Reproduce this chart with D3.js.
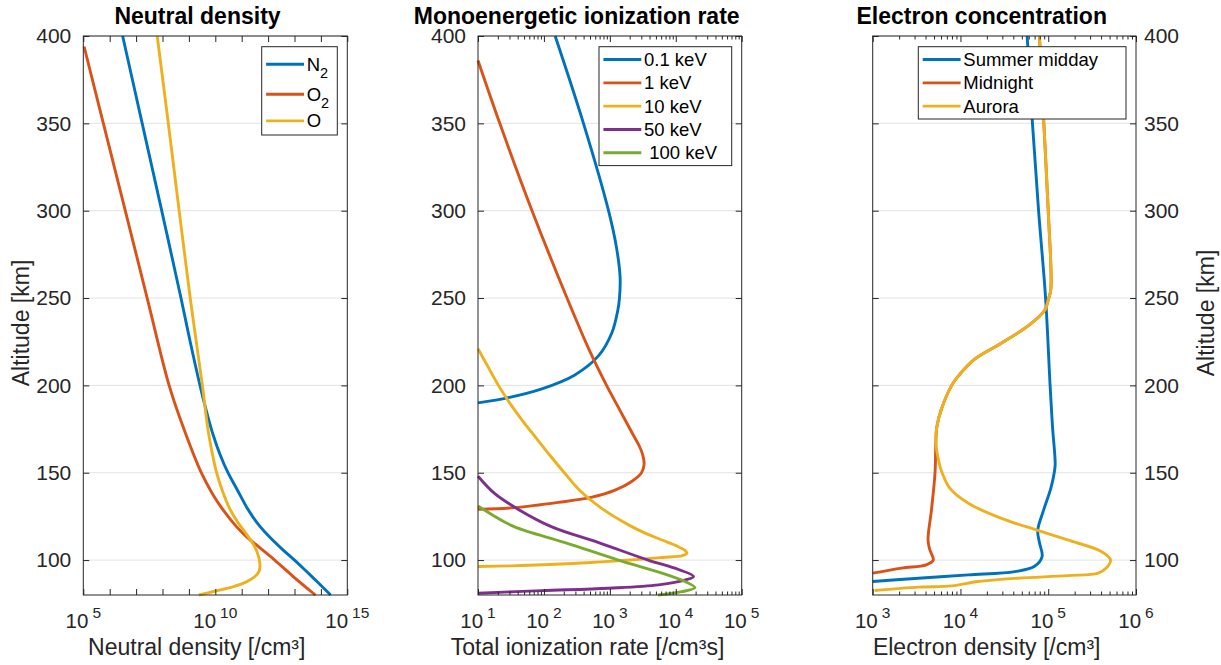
<!DOCTYPE html>
<html>
<head>
<meta charset="utf-8">
<script src="https://cdn.jsdelivr.net/npm/d3@7"></script>
<style>
  body { margin: 0; background: #fff; }
  svg { display: block; font-family: "Liberation Sans", Arial, Helvetica, sans-serif; }
</style>
</head>
<body>
<svg id="fig" width="1221" height="665"></svg>
<script>
// ---- Neutral density profiles [/cm^3] vs altitude [km] ----
const altN2  = [400, 350, 300, 250, 225, 200, 186, 172, 160, 150, 140, 130, 121, 113, 106, 100, 94, 87, 80];
const densN2 = [3.09e6, 1.70e7, 9.33e7, 5.01e8, 1.12e9, 2.63e9, 4.47e9, 8.13e9, 1.55e10, 3.02e10, 6.92e10, 1.58e11, 3.98e11, 1.17e12, 3.55e12, 1.0e13, 2.63e13, 7.94e13, 2.34e14];
const altO2  = [394, 350, 300, 250, 200, 173, 150, 138, 129, 119, 113, 107, 100, 91, 80];
const densO2 = [1.07e5, 5.75e5, 3.89e6, 2.63e7, 1.78e8, 7.24e8, 2.95e9, 7.76e9, 1.91e10, 6.46e10, 1.62e11, 4.9e11, 1.78e12, 8.3e12, 6.17e13];
const altO   = [400, 350, 300, 250, 200, 185, 173, 160, 150, 140, 129, 121, 114, 108, 103, 99, 96, 93, 90.6, 87.5, 84.8, 82, 80];
const densO  = [6.31e7, 1.66e8, 4.27e8, 1.12e9, 3.24e9, 4.27e9, 5.5e9, 7.94e9, 1.12e10, 1.82e10, 3.63e10, 7.59e10, 1.66e11, 3.02e11, 4.17e11, 4.79e11, 4.9e11, 4.37e11, 3.16e11, 1.51e11, 4.9e10, 8.5e9, 2.4e9];
const neutralLabels = [["N", "2"], ["O", "2"], ["O", ""]];

// ---- Monoenergetic ionization rate [/cm^3 s] ----
const alt01keV  = [400, 350, 300, 279, 262, 250, 243, 230, 217, 206, 198, 193, 190];
const rate01keV = [148, 398, 955, 1260, 1430, 1400, 1320, 1070, 676, 295, 93, 29, 10];
const alt1keV   = [386, 350, 300, 250, 220, 200, 186, 172.6, 165, 160, 155, 150, 145, 140, 136, 133, 130, 129];
const rate1keV  = [10, 21.4, 66, 224, 490, 891, 1410, 2190, 2820, 3160, 3310, 3020, 2140, 1200, 537, 166, 36, 10];
const alt10keV  = [221, 210, 200, 190, 180, 170, 160, 150, 140, 130, 120, 115, 111.5, 108, 105.5, 104, 102.5, 101.5, 100, 98.5, 97.3, 96.7, 96.3];
const rate10keV = [10, 14.5, 20.4, 30.2, 46.8, 75.9, 123, 204, 347, 724, 1950, 3630, 6170, 10500, 13800, 14800, 12600, 6310, 2000, 447, 100, 31.6, 10];
const alt50keV  = [148, 138, 129, 119, 110, 100, 94.6, 90.6, 88.6, 85.8, 83.9, 82.5, 81];
const rate50keV = [10, 18, 41, 132, 676, 3800, 11000, 18600, 14100, 5500, 955, 93, 10];
const alt100keV  = [131, 125, 119, 110, 100, 92.5, 87.7, 84.2, 81.9, 80];
const rate100keV = [10, 18, 36, 209, 1350, 6170, 13800, 19500, 12300, 5370];
const energyLabels = ["0.1 keV", "1 keV", "10 keV", "50 keV", " 100 keV"];

// ---- Electron density [/cm^3] ----
const altDay = [400, 350, 300, 250, 200, 176, 155, 150, 141, 129, 117, 110, 102, 96.3, 93.4, 91.5, 89.6, 87.7];
const neDay  = [57500, 66100, 77600, 93300, 105000, 112000, 120000, 117000, 107000, 89100, 75900, 79400, 85100, 69200, 41700, 12300, 3310, 1000];
const altNight = [400, 350, 300, 255, 249, 243, 234, 224, 215, 205, 200, 186, 176, 169, 150, 129, 111.5, 106, 100, 97.3, 95.4, 92.5];
const neNight  = [79400, 89100, 100000, 107000, 100000, 91200, 58900, 28800, 14500, 9330, 7940, 6030, 5370, 5250, 5130, 4680, 4270, 4470, 4900, 4070, 2140, 1000];
const altAurora = [400, 350, 300, 255, 249, 243, 234, 224, 215, 205, 200, 186, 176, 167, 155, 150, 141, 132.5, 124, 117, 111.5, 105, 100, 95.4, 92.5, 91.1, 89.6, 87.7, 85.2, 84.5, 82.6];
const neAurora  = [79400, 89100, 100000, 107000, 100000, 91200, 58900, 28800, 14500, 9330, 7940, 6030, 5370, 5250, 5750, 6170, 7590, 12300, 28800, 75900, 166000, 398000, 513000, 457000, 372000, 166000, 44700, 15800, 7940, 3310, 1050];
const electronLabels = ["Summer midday", "Midnight", "Aurora"];

const altTicks = [100, 150, 200, 250, 300, 350, 400];
const colors = ["#0072BD", "#D95319", "#EDB120", "#7E2F8E", "#77AC30"];

// ---- layout ----
const svg = d3.select("#fig");
const plotTop = 36, plotBottom = 595;
const axisColor = "#262626";
const y = d3.scaleLinear().domain([80, 400]).range([plotBottom, plotTop]);

const panels = [
  {
    left: 83.3, right: 347.3, domain: [1e5, 1e15],
    decades: d3.range(5, 16), labelled: [5, 10, 15], minor: false,
    series: [[altN2, densN2], [altO2, densO2], [altO, densO]],
    legend: neutralLabels, legendWidth: 75.6, subscript: true,
    title: "Neutral density", titleX: 197.5,
    xlabel: "Neutral density [/cm³]", xlabelX: 196.7,
    yside: "left", ylabelPos: [29, 323]
  },
  {
    left: 478, right: 741.7, domain: [1e1, 1e5],
    decades: d3.range(1, 6), labelled: d3.range(1, 6), minor: true,
    series: [[alt01keV, rate01keV], [alt1keV, rate1keV], [alt10keV, rate10keV], [alt50keV, rate50keV], [alt100keV, rate100keV]],
    legend: energyLabels, legendWidth: 132.7, subscript: false,
    title: "Monoenergetic ionization rate", titleX: 576.7,
    xlabel: "Total ionization rate [/cm³s]", xlabelX: 587.5,
    yside: "left", ylabelPos: null
  },
  {
    left: 872.7, right: 1136, domain: [1e3, 1e6],
    decades: d3.range(3, 7), labelled: d3.range(3, 7), minor: true,
    series: [[altDay, neDay], [altNight, neNight], [altAurora, neAurora]],
    legend: electronLabels, legendWidth: 207.7, subscript: false,
    title: "Electron concentration", titleX: 981.7,
    xlabel: "Electron density [/cm³]", xlabelX: 986.7,
    yside: "right", ylabelPos: [1214, 313]
  }
];

panels.forEach(p => {
  const x = d3.scaleLog().domain(p.domain).range([p.left, p.right]);
  const g = svg.append("g");

  // horizontal grid
  g.append("g").selectAll("line").data(altTicks).join("line")
    .attr("x1", p.left).attr("x2", p.right)
    .attr("y1", d => y(d)).attr("y2", d => y(d))
    .attr("stroke", axisColor).attr("stroke-opacity", 0.13).attr("stroke-width", 1);

  // profiles
  const line = d3.line()
    .x(d => x(d[1])).y(d => y(d[0]))
    .curve(d3.curveCatmullRom.alpha(0.5));
  p.series.forEach((s, i) => {
    g.append("path")
      .datum(d3.zip(s[0], s[1]))
      .attr("d", line)
      .attr("fill", "none")
      .attr("stroke", colors[i])
      .attr("stroke-width", 2.9)
      .attr("stroke-linejoin", "round");
  });

  // axes: ticks point inward on all four sides
  const majorX = p.decades.map(e => Math.pow(10, e));
  const minorX = p.minor
    ? p.decades.slice(0, -1).flatMap(e => d3.range(2, 10).map(m => m * Math.pow(10, e)))
    : [];
  const mk = (axis, vals, size) => axis.tickValues(vals).tickSizeInner(-size).tickSizeOuter(0).tickFormat(() => "");

  const addAxis = (axisFn, transform) => {
    const a = g.append("g").attr("transform", transform).attr("color", axisColor).call(axisFn);
    a.select(".domain").remove();
    a.selectAll("line").attr("stroke-width", 1);
    return a;
  };
  addAxis(mk(d3.axisBottom(x), majorX, 6), `translate(0,${plotBottom})`);
  addAxis(mk(d3.axisTop(x), majorX, 6), `translate(0,${plotTop})`);
  if (minorX.length) {
    addAxis(mk(d3.axisBottom(x), minorX, 3.5), `translate(0,${plotBottom})`);
    addAxis(mk(d3.axisTop(x), minorX, 3.5), `translate(0,${plotTop})`);
  }
  addAxis(mk(d3.axisLeft(y), altTicks, 6), `translate(${p.left},0)`);
  addAxis(mk(d3.axisRight(y), altTicks, 6), `translate(${p.right},0)`);

  // axes box
  g.append("rect")
    .attr("x", p.left).attr("y", plotTop)
    .attr("width", p.right - p.left).attr("height", plotBottom - plotTop)
    .attr("fill", "none").attr("stroke", axisColor).attr("stroke-width", 1);

  // altitude tick labels
  g.append("g").selectAll("text").data(altTicks).join("text")
    .attr("x", p.yside === "left" ? p.left - 12 : p.right + 8)
    .attr("y", d => y(d) + 7.3)
    .attr("text-anchor", p.yside === "left" ? "end" : "start")
    .attr("font-size", 21).attr("fill", axisColor)
    .text(d => d);

  // power-of-ten labels
  const xl = g.append("g").selectAll("text").data(p.labelled).join("text")
    .attr("x", d => x(Math.pow(10, d)))
    .attr("y", 628)
    .attr("text-anchor", "middle")
    .attr("font-size", 20.5).attr("fill", axisColor);
  xl.append("tspan").text("10");
  xl.append("tspan").attr("dx", 4).attr("dy", -10).attr("font-size", 15.5).text(d => d);

  // title and axis labels
  g.append("text").attr("x", p.titleX).attr("y", 24)
    .attr("text-anchor", "middle").attr("font-size", 23).attr("font-weight", "bold")
    .attr("fill", "#000").text(p.title);
  g.append("text").attr("x", p.xlabelX).attr("y", 655)
    .attr("text-anchor", "middle").attr("font-size", 23)
    .attr("fill", axisColor).text(p.xlabel);
  if (p.ylabelPos) {
    g.append("text")
      .attr("transform", `translate(${p.ylabelPos[0]},${p.ylabelPos[1]}) rotate(-90)`)
      .attr("text-anchor", "middle").attr("font-size", 23)
      .attr("fill", axisColor).text("Altitude [km]");
  }

  // legend (north-east corner)
  const rowH = 23.3, subRowH = 30;
  const heights = p.legend.map(l => (p.subscript && l[1]) ? subRowH : rowH);
  const pad = p.subscript ? 2.5 : 1.2;
  const boxH = d3.sum(heights) + 2 * pad;
  const lx = p.right - 10 - p.legendWidth, ly = plotTop + 10.7;
  const lg = g.append("g").attr("transform", `translate(${lx},${ly})`);
  lg.append("rect").attr("width", p.legendWidth).attr("height", boxH)
    .attr("fill", "#fff").attr("stroke", axisColor).attr("stroke-width", 1);
  let acc = pad;
  p.legend.forEach((lab, i) => {
    const cy = acc + heights[i] / 2;
    acc += heights[i];
    lg.append("line").attr("x1", 4.4).attr("x2", 42.3).attr("y1", cy).attr("y2", cy)
      .attr("stroke", colors[i]).attr("stroke-width", 2.9);
    const t = lg.append("text").attr("x", 45).attr("y", cy + 6.5)
      .attr("font-size", 18.5).attr("fill", "#000");
    if (p.subscript) {
      t.append("tspan").text(lab[0]);
      if (lab[1]) t.append("tspan").attr("dy", 7).attr("font-size", 14.5).text(lab[1]);
    } else {
      t.attr("xml:space", "preserve").style("white-space", "pre").text(lab);
    }
  });
});
</script>
</body>
</html>
